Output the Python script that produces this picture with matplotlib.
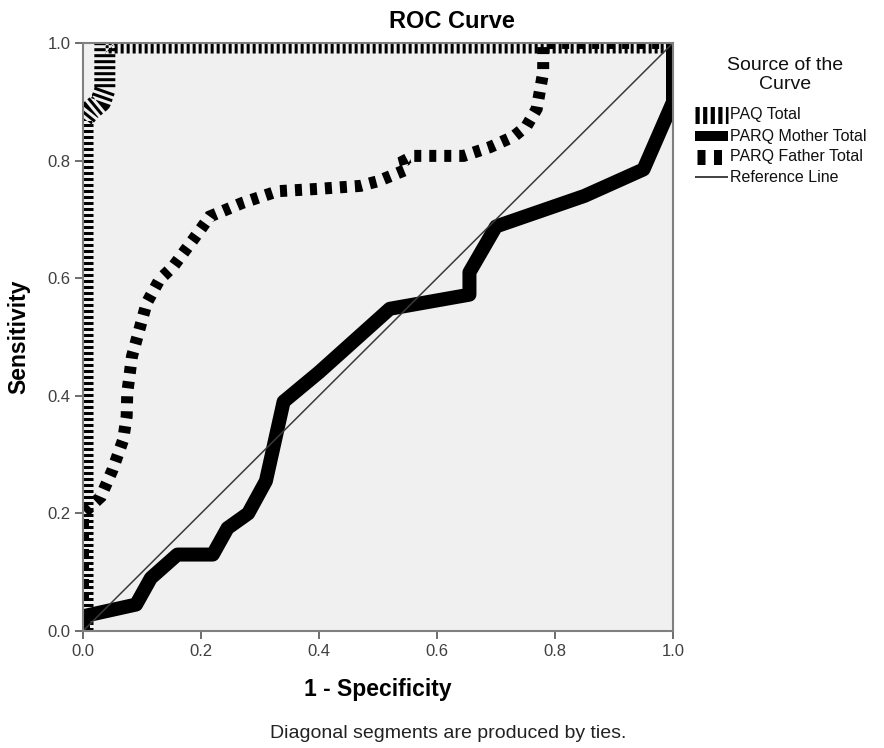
import matplotlib
matplotlib.use("Agg")
import matplotlib.pyplot as plt
from matplotlib.lines import Line2D

plt.rcParams['font.family'] = ['Liberation Sans', 'DejaVu Sans']
plt.rcParams['lines.scale_dashes'] = False

# ---- data ----
fpr_paq = [0.0, 0.0, 0.012, 0.03, 0.037, 0.037, 1.0]
tpr_paq = [0.0, 0.87, 0.885, 0.90, 0.92, 1.0, 1.0]

fpr_mother = [0.0, 0.0, 0.09, 0.115, 0.16, 0.22, 0.245, 0.28, 0.31, 0.32, 0.34,
              0.40, 0.52, 0.655, 0.655, 0.70, 0.85, 0.95, 1.0, 1.0]
tpr_mother = [0.0, 0.025, 0.045, 0.09, 0.13, 0.13, 0.175, 0.20, 0.255, 0.30, 0.39,
              0.44, 0.548, 0.572, 0.61, 0.688, 0.74, 0.785, 0.90, 1.0]

fpr_father = [0.0, 0.0, 0.03, 0.05, 0.068, 0.074, 0.075, 0.083, 0.097, 0.108, 0.13,
              0.153, 0.187, 0.215, 0.27, 0.33, 0.40, 0.47, 0.50, 0.549, 0.545, 0.56,
              0.645, 0.69, 0.73, 0.752, 0.769, 0.775, 0.78, 0.78, 1.0]
tpr_father = [0.0, 0.20, 0.228, 0.274, 0.325, 0.365, 0.405, 0.467, 0.518, 0.558, 0.598,
              0.62, 0.666, 0.705, 0.728, 0.748, 0.752, 0.757, 0.765, 0.785, 0.80, 0.808,
              0.808, 0.823, 0.841, 0.859, 0.888, 0.922, 0.95, 1.0, 1.0]

ref_x = [0.0, 1.0]
ref_y = [0.0, 1.0]

ticks = [0.0, 0.2, 0.4, 0.6, 0.8, 1.0]
tick_labels = ["0.0", "0.2", "0.4", "0.6", "0.8", "1.0"]
series_names = ["PAQ Total", "PARQ Mother Total", "PARQ Father Total", "Reference Line"]

W, H = 884, 748
fig = plt.figure(figsize=(W / 100, H / 100), dpi=100)
fig.patch.set_facecolor('white')

L, R, T, B = 83, 673, 43, 631
ax = fig.add_axes([L / W, 1 - B / H, (R - L) / W, (B - T) / H])
ax.set_facecolor('#f0f0f0')

px = 0.72  # points per pixel at 100 dpi

ax.plot(fpr_father, tpr_father, color='black', lw=12 * px, dashes=(7 * px, 8 * px),
        dash_capstyle='butt', dash_joinstyle='miter', zorder=3)
ax.plot(fpr_paq, tpr_paq, color='black', lw=21 * px, dashes=(3 * px, 3 * px),
        dash_capstyle='butt', solid_capstyle='butt', zorder=4)
ax.plot(fpr_mother, tpr_mother, color='black', lw=14 * px, solid_joinstyle='round',
        solid_capstyle='butt', zorder=5)
ax.plot(ref_x, ref_y, color='#3a3a3a', lw=1.1, zorder=6)

ax.set_xlim(0, 1)
ax.set_ylim(0, 1)
ax.set_xticks(ticks)
ax.set_xticklabels(tick_labels)
ax.set_yticks(ticks)
ax.set_yticklabels(tick_labels)
ax.tick_params(axis='both', direction='out', length=6, width=1.2, color='#555555',
               labelsize=12, labelcolor='#404040', pad=3)
for s in ax.spines.values():
    s.set_color('#808080')
    s.set_linewidth(1.5)
    s.set_zorder(10)

ax.set_xlabel("1 - Specificity", fontsize=16.5, fontweight='bold', labelpad=14)
ax.set_ylabel("Sensitivity", fontsize=16.5, fontweight='bold', labelpad=12)

fig.text(452 / W, 1 - 22 / H, "ROC Curve", ha='center', va='center',
         fontsize=17, fontweight='bold')

fig.text(448 / W, 1 - 733 / H, "Diagonal segments are produced by ties.",
         ha='center', va='center', fontsize=14, color='#222222')

# ---- legend (drawn manually) ----
fig.text(785 / W, 1 - 75 / H, "Source of the\nCurve", ha='center', va='center',
         fontsize=14, linespacing=1.1, color='#111111')

def fy(y):
    return 1 - y / H

x0, x1 = 695 / W, 728 / W
rows = [115, 136, 157, 177]
fig.add_artist(Line2D([x0, x1], [fy(rows[0])] * 2, transform=fig.transFigure,
                      color='black', lw=17 * px, dashes=(4.2 * px, 3.4 * px),
                      dash_capstyle='butt'))
fig.add_artist(Line2D([x0, x1], [fy(rows[1])] * 2, transform=fig.transFigure,
                      color='black', lw=10 * px, solid_capstyle='butt'))
fig.add_artist(Line2D([697 / W, 722 / W], [fy(rows[2])] * 2, transform=fig.transFigure,
                      color='black', lw=15 * px, dashes=(8 * px, 8.5 * px),
                      dash_capstyle='butt'))
fig.add_artist(Line2D([x0, x1], [fy(rows[3])] * 2, transform=fig.transFigure,
                      color='#333333', lw=1.3, solid_capstyle='butt'))
for name, r in zip(series_names, rows):
    fig.text(730 / W, fy(r), name, ha='left', va='center', fontsize=11.5,
             color='#111111')

fig.savefig("out.png", dpi=100)
